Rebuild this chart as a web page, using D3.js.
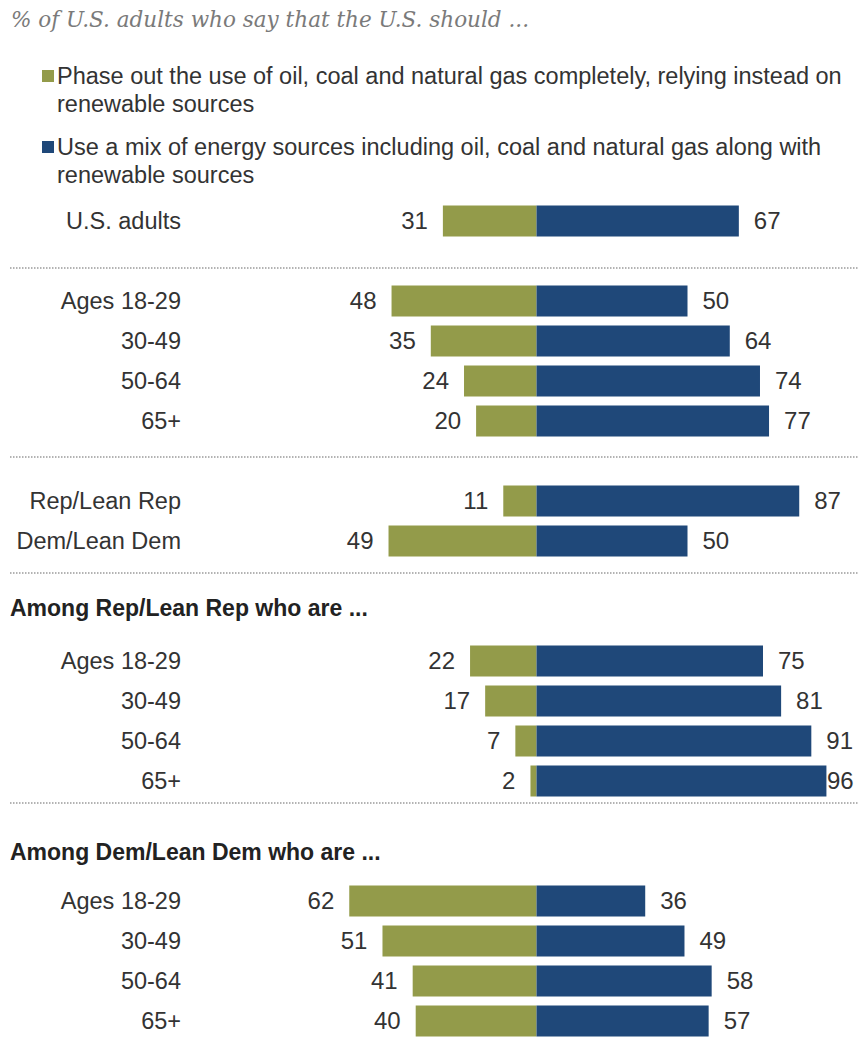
<!DOCTYPE html>
<html>
<head>
<meta charset="utf-8">
<script src="https://cdn.jsdelivr.net/npm/d3@7"></script>
<style>
    body { margin: 0; background: #fff; }
    text { font-family: "Liberation Sans", Arial, sans-serif; fill: #333; }
</style>
</head>
<body>
<script>
// values, % of U.S. adults
var seriesNames = ["Phase out the use of oil, coal and natural gas completely, relying instead on|renewable sources",
                   "Use a mix of energy sources including oil, coal and natural gas along with|renewable sources"];

var totalLabels = ["U.S. adults"];
var totalPhase = [31];
var totalMix = [67];

var ageLabels = ["Ages 18-29", "30-49", "50-64", "65+"];
var agePhase = [48, 35, 24, 20];
var ageMix = [50, 64, 74, 77];

var partyLabels = ["Rep/Lean Rep", "Dem/Lean Dem"];
var partyPhase = [11, 49];
var partyMix = [87, 50];

var repAgePhase = [22, 17, 7, 2];
var repAgeMix = [75, 81, 91, 96];

var demAgePhase = [62, 51, 41, 40];
var demAgeMix = [36, 49, 58, 57];

var width = 858,
    height = 1046,
    center = 536.5,   // where the two bars meet
    rowStep = 40,
    labelRight = 181,
    valueGap = 15,
    green = "#939b4a",
    blue = "#1f4879";

// each block: labels, values, top of its first row, optional header
var sections = [
    {labels: totalLabels, phase: totalPhase, mix: totalMix, top: 201},
    {labels: ageLabels, phase: agePhase, mix: ageMix, top: 281},
    {labels: partyLabels, phase: partyPhase, mix: partyMix, top: 481},
    {labels: ageLabels, phase: repAgePhase, mix: repAgeMix, top: 641,
        header: "Among Rep/Lean Rep who are ...", headerY: 608},
    {labels: ageLabels, phase: demAgePhase, mix: demAgeMix, top: 881,
        header: "Among Dem/Lean Dem who are ...", headerY: 852}
];
var separators = [268, 457, 573, 803];

var svg = d3.select("body").append("svg")
            .attr("width", width)
            .attr("height", height);

var x = d3.scaleLinear()
          .domain([0, 100])
          .range([0, 302]);

// title
svg.append("text")
   .attr("x", 11)
   .attr("y", 19)
   .attr("dy", "0.35em")
   .attr("textLength", 518)
   .attr("lengthAdjust", "spacingAndGlyphs")
   .style("font-family", "'DejaVu Serif', 'Liberation Serif', serif")
   .style("font-style", "italic")
   .style("font-size", "22px")
   .style("fill", "#7a7a7a")
   .text("% of U.S. adults who say that the U.S. should ...");

// legend
var legend = svg.selectAll(".legendItem")
                .data(seriesNames)
                .enter()
                .append("g")
                .attr("class", "legendItem")
                .attr("transform", function(d, i) {return "translate(42," + (76 + i * 71) + ")"; });

legend.append("rect")
      .attr("y", -6)
      .attr("width", 12)
      .attr("height", 12)
      .style("fill", function(d, i) {return i === 0 ? green : blue; });

legend.selectAll("text")
      .data(function(d) {return d.split("|"); })
      .enter()
      .append("text")
      .attr("x", 15)
      .attr("y", function(d, i) {return i * 28; })
      .attr("dy", "0.35em")
      .style("font-size", "23.5px")
      .text(function(d) {return d; });

// dotted separators
svg.selectAll(".sep")
   .data(separators)
   .enter()
   .append("line")
   .attr("class", "sep")
   .attr("x1", 10)
   .attr("x2", width)
   .attr("y1", function(d) {return d; })
   .attr("y2", function(d) {return d; })
   .style("stroke", "#9a9a9a")
   .style("stroke-width", 1.5)
   .style("stroke-dasharray", "1.5,1.5");

sections.forEach(function(sec) {
    var y = d3.scaleBand()
              .domain(d3.range(sec.labels.length))
              .range([sec.top, sec.top + sec.labels.length * rowStep])
              .paddingInner(0.225)
              .paddingOuter(0.1125);

    if (sec.header) {
        svg.append("text")
           .attr("x", 10)
           .attr("y", sec.headerY)
           .attr("dy", "0.35em")
           .style("font-size", "23px")
           .style("font-weight", "bold")
           .style("fill", "#222")
           .text(sec.header);
    }

    var rows = svg.append("g").selectAll(".row")
                  .data(sec.labels.map(function(l, i) {
                      return {label: l, phase: sec.phase[i], mix: sec.mix[i], i: i};
                  }))
                  .enter()
                  .append("g")
                  .attr("class", "row");

    rows.append("text")
        .attr("x", labelRight)
        .attr("y", function(d) {return y(d.i) + y.bandwidth() / 2; })
        .attr("dy", "0.35em")
        .attr("text-anchor", "end")
        .style("font-size", "23.5px")
        .text(function(d) {return d.label; });

    rows.append("rect")
        .attr("x", function(d) {return center - x(d.phase); })
        .attr("y", function(d) {return y(d.i); })
        .attr("width", function(d) {return x(d.phase); })
        .attr("height", y.bandwidth())
        .style("fill", green);

    rows.append("rect")
        .attr("x", center)
        .attr("y", function(d) {return y(d.i); })
        .attr("width", function(d) {return x(d.mix); })
        .attr("height", y.bandwidth())
        .style("fill", blue);

    rows.append("text")
        .attr("x", function(d) {return center - x(d.phase) - valueGap; })
        .attr("y", function(d) {return y(d.i) + y.bandwidth() / 2; })
        .attr("dy", "0.35em")
        .attr("text-anchor", "end")
        .style("font-size", "24px")
        .text(function(d) {return d.phase; });

    // the widest bar pushes its label against the right edge
    rows.append("text")
        .attr("x", function(d) {return Math.min(center + x(d.mix) + valueGap, width - 31); })
        .attr("y", function(d) {return y(d.i) + y.bandwidth() / 2; })
        .attr("dy", "0.35em")
        .style("font-size", "24px")
        .text(function(d) {return d.mix; });
});
</script>
</body>
</html>
